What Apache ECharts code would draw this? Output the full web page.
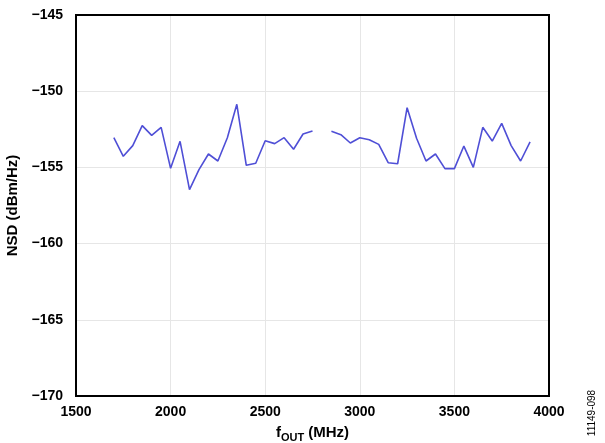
<!DOCTYPE html>
<html><head><meta charset="utf-8">
<script src="https://cdn.jsdelivr.net/npm/echarts@6/dist/echarts.min.js"></script>
<style>html,body{margin:0;padding:0;background:#fff}#c{width:605px;height:443px}</style>
</head><body><div id="c"></div>
<script>
const freqs1 = [1700,1750,1800,1850,1900,1950,2000,2050,2100,2150,2200,2250,2300,2350,2400,2450,2500,2550,2600,2650,2700,2750];
const nsd1 = [-153.05,-154.27,-153.57,-152.26,-152.90,-152.37,-155.06,-153.29,-156.46,-155.15,-154.12,-154.58,-153.05,-150.86,-154.86,-154.73,-153.25,-153.44,-153.05,-153.81,-152.81,-152.61];
const freqs2 = [2850,2900,2950,3000,3050,3100,3150,3200,3250,3300,3350,3400,3450,3500,3550,3600,3650,3700,3750,3800,3850,3900];
const nsd2 = [-152.63,-152.85,-153.40,-153.05,-153.18,-153.49,-154.69,-154.76,-151.08,-153.09,-154.58,-154.12,-155.08,-155.08,-153.60,-155.00,-152.37,-153.27,-152.11,-153.57,-154.58,-153.33];
const xTicks = [1500,2000,2500,3000,3500,4000];
const yTicks = [-170,-165,-160,-155,-150,-145];

const data = [];
freqs1.forEach((f,i)=>data.push([f,nsd1[i]]));
data.push([2800,null]);
freqs2.forEach((f,i)=>data.push([f,nsd2[i]]));

const font = 'Liberation Sans, Arial, sans-serif';
const chart = echarts.init(document.getElementById('c'), null, {renderer:'canvas'});
chart.setOption({
  animation:false,
  backgroundColor:'#fff',
  grid:{left:76, top:15, right:56, bottom:47, containLabel:false, outerBoundsMode:'none',
    show:true, borderColor:'#000', borderWidth:2, backgroundColor:'transparent', z:5},
  xAxis:{
    type:'value', min:xTicks[0], max:xTicks[xTicks.length-1], interval:500,
    axisLine:{show:false}, axisTick:{show:false},
    splitLine:{show:true, lineStyle:{color:'#e6e6e6', width:1}},
    axisLabel:{fontFamily:font, fontWeight:'bold', fontSize:14, color:'#000', margin:9, showMinLabel:true, showMaxLabel:true,
      formatter:v=>String(v)},
    name:'{f|f}{s|OUT}{f| (MHz)}', nameLocation:'middle', nameGap:27,
    nameTextStyle:{rich:{
      f:{fontFamily:font, fontWeight:'bold', fontSize:15, color:'#000'},
      s:{fontFamily:font, fontWeight:'bold', fontSize:11, color:'#000', verticalAlign:'bottom', padding:[9,0,0,0]}
    }}
  },
  yAxis:{
    type:'value', min:yTicks[0], max:yTicks[yTicks.length-1], interval:5,
    axisLine:{show:false}, axisTick:{show:false},
    splitLine:{show:true, lineStyle:{color:'#e6e6e6', width:1}},
    axisLabel:{fontFamily:font, fontWeight:'bold', fontSize:14, color:'#000', margin:13,
      formatter:v=>String(v).replace('-','\u2212')},
    name:'NSD (dBm/Hz)', nameLocation:'middle', nameGap:52,
    nameTextStyle:{fontFamily:font, fontWeight:'bold', fontSize:15, color:'#000'}
  },
  series:[{
    type:'line', data:data, showSymbol:false, connectNulls:false,
    lineStyle:{color:'#4f4fd6', width:1.6}, itemStyle:{color:'#4f4fd6'}
  }],
  graphic:[{
    type:'text', x:592, y:413, rotation:Math.PI/2,
    style:{text:'11149-098', fontFamily:font, fontSize:10, fill:'#000', align:'center', verticalAlign:'middle'}
  }]
});
</script></body></html>
